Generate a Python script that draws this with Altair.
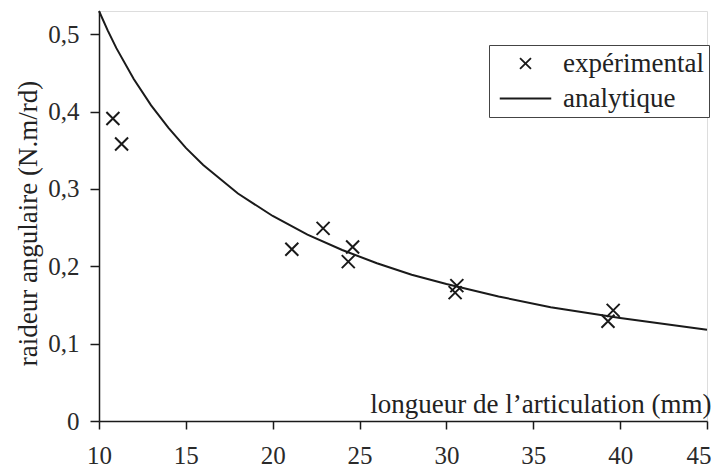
import altair as alt
import pandas as pd

# experimental measurements (length in mm, angular stiffness N.m/rd)
exp_x = [10.8, 11.3, 21.1, 22.9, 24.35, 24.6, 30.5, 30.6, 39.3, 39.6]
exp_y = [0.391, 0.358, 0.222, 0.249, 0.206, 0.225, 0.166, 0.175, 0.129, 0.143]

# analytic curve, values
ana_x = [10, 10.5, 11, 12, 13, 14, 15, 16, 18, 20, 22, 24, 26, 28, 30, 33, 36, 40, 45]
ana_y = [0.530, 0.505, 0.482, 0.442, 0.408, 0.379, 0.353, 0.331, 0.294, 0.265,
         0.241, 0.221, 0.204, 0.189, 0.177, 0.161, 0.147, 0.133, 0.118]

series = ["expérimental", "analytique"]
x_ticks = [10, 15, 20, 25, 30, 35, 40, 45]
y_ticks = [0, 0.1, 0.2, 0.3, 0.4, 0.5]

FONT = "Liberation Serif"
INK = "#1a1a1a"
X_PATH = "M-1,-1L1,1M-1,1L1,-1"
LINE_PATH = "M-4.7,0L4.7,0"

df_exp = pd.DataFrame({"L": exp_x, "k": exp_y, "serie": [series[0]] * len(exp_x)})
df_ana = pd.DataFrame({"L": ana_x, "k": ana_y})

xs = alt.Scale(domain=[10, 45], nice=False, zero=False)
ys = alt.Scale(domain=[0, 0.53], nice=False, zero=False)

x_axis = alt.Axis(
    values=x_ticks, grid=False, tickSize=8, tickWidth=1.5, domainWidth=1.5,
    domainColor=INK, tickColor=INK, labelPadding=14, labelFlush=False,
    labelOverlap=False, labelFont=FONT, labelFontSize=25, labelColor="#2a2a2a",
    labelAlign={"condition": {"test": "datum.value == 45", "value": "right"}, "value": "center"},
    labelOffset={"condition": {"test": "datum.value == 45", "value": 4}, "value": 0},
    title="longueur de l’articulation (mm)", titleFont=FONT, titleFontSize=27,
    titleFontWeight="normal", titleColor="#222222", titleX=612, titleY=-9,
    titleAlign="right", titleBaseline="alphabetic",
)
y_axis = alt.Axis(
    values=y_ticks, grid=False, tickSize=9, tickWidth=1.5, domainWidth=1.5,
    domainColor=INK, tickColor=INK, labelPadding=11, labelFlush=False,
    labelOverlap=False, labelFont=FONT, labelFontSize=25, labelColor="#2a2a2a",
    labelExpr="replace(format(datum.value, '.1~f'), '.', ',')",
    title="raideur angulaire (N.m/rd)", titleFont=FONT, titleFontSize=27,
    titleFontWeight="normal", titleColor="#222222", titleX=-63, titleY=212,
    titleAngle=-90, titleAlign="center", titleBaseline="alphabetic",
)

line = alt.Chart(df_ana).mark_line(color=INK, strokeWidth=2).encode(
    x=alt.X("L:Q", scale=xs, axis=x_axis),
    y=alt.Y("k:Q", scale=ys, axis=y_axis),
)

points = alt.Chart(df_exp).mark_point(
    filled=False, color=INK, strokeWidth=2, size=169, opacity=1
).encode(
    x=alt.X("L:Q", scale=xs),
    y=alt.Y("k:Q", scale=ys),
    shape=alt.Shape(
        "serie:N",
        scale=alt.Scale(domain=series, range=[X_PATH, LINE_PATH]),
        title=None,
        legend=alt.Legend(
            orient="none", legendX=390, legendY=34, padding=5,
            strokeColor="#444444", fillColor="white",
            labelFont=FONT, labelFontSize=27, labelColor="#222222",
            labelOffset=24, rowPadding=7, symbolSize=120,
            symbolOffset=18, symbolStrokeWidth=1.8,
            symbolStrokeColor=INK, symbolFillColor="transparent",
        ),
    ),
)

chart = alt.layer(line, points).properties(
    width=608, height=410,
    padding={"left": 91, "top": 3, "right": 5, "bottom": 49},
    autosize=alt.AutoSizeParams(type="none"),
).configure_view(stroke=None).configure(background="white")

chart.save("out.html", embed_options={"renderer": "svg", "actions": False})
